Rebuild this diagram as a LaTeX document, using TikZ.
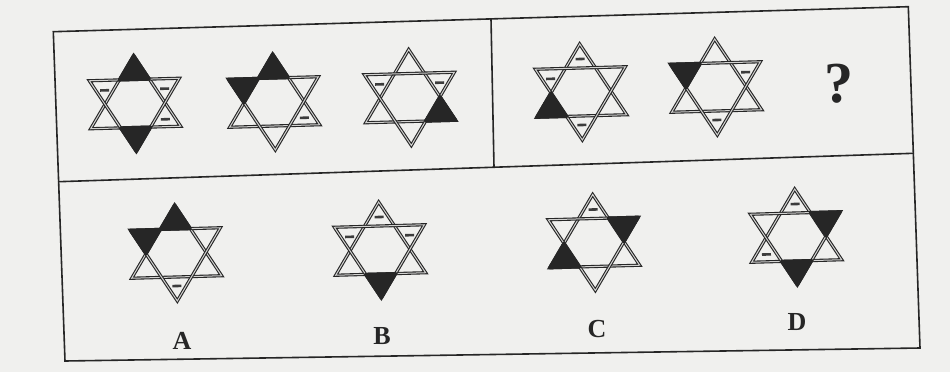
\documentclass[tikz,border=0pt]{standalone}
\usepackage{fontspec}
\setmainfont{Liberation Serif}
\usetikzlibrary{calc}
\definecolor{paper}{HTML}{F0F0EE}
\definecolor{ink}{HTML}{262626}
\tikzset{
  tri/.style={draw=ink, double=paper!85!ink, line width=1.1pt, double distance=1pt, line join=miter},
  tipfill/.style={fill=ink, draw=ink, line width=3.2pt, line join=round},
  dashmark/.style={fill=ink!90},
  frameline/.style={draw=ink, line width=1.6pt, line join=miter},
  letter/.style={font=\fontsize{26}{26}\selectfont\bfseries, text=ink, inner sep=0pt},
  qmark/.style={font=\fontsize{58}{58}\selectfont\bfseries, text=ink, inner sep=0pt},
  % the six small tips of a star
  tip T/.style={insert path={(-15,-24) -- (15,-24) -- (0,-48) -- cycle}},
  tip B/.style={insert path={(-15,24) -- (15,24) -- (0,48) -- cycle}},
  tip UL/.style={insert path={(-45,-24) -- (-15,-24) -- (-30,0) -- cycle}},
  tip UR/.style={insert path={(45,-24) -- (15,-24) -- (30,0) -- cycle}},
  tip LL/.style={insert path={(-45,24) -- (-15,24) -- (-30,0) -- cycle}},
  tip LR/.style={insert path={(45,24) -- (15,24) -- (30,0) -- cycle}},
  % short bars inside the tips
  mark T/.style={insert path={(-4.5,-34.3) rectangle (4.5,-31.7)}},
  mark B/.style={insert path={(-4.5,31.7) rectangle (4.5,34.3)}},
  mark UL/.style={insert path={(-34.5,-15.3) rectangle (-25.5,-12.7)}},
  mark UR/.style={insert path={(25.5,-15.3) rectangle (34.5,-12.7)}},
  mark LL/.style={insert path={(-34.5,15.3) rectangle (-25.5,17.9)}},
  mark LR/.style={insert path={(25.5,15.3) rectangle (34.5,17.9)}},
}
% centre, black tips, marked tips
\newcommand{\hexstar}[3]{%
  \begin{scope}[shift={#1}, rotate=1.6]
    \draw[tri] (0,-48) -- (45,24) -- (-45,24) -- cycle;
    \draw[tri] (0,48) -- (45,-24) -- (-45,-24) -- cycle;
    \foreach \t in {#2} {\path[tipfill, tip \t];}
    \foreach \t in {#3} {\path[dashmark, mark \t];}
  \end{scope}}

\begin{document}
\begin{tikzpicture}[x=1pt, y=-1pt, line cap=round]
  \fill[paper] (0,0) rectangle (950,372);
  \useasboundingbox (0,0) rectangle (950,372);

  % ---------- frame ----------
  \coordinate (tl) at (53.3,31.7);
  \coordinate (tr) at (908.3,6.7);
  \coordinate (br) at (920,348);
  \coordinate (bl) at (65,361);
  \coordinate (ml) at (58.6,181.7);
  \coordinate (mr) at (913.3,153.3);
  \coordinate (dt) at (491,18.9);
  \coordinate (db) at (494,167.2);
  \draw[frameline] (tl) -- (tr) -- (br) -- (bl) -- cycle;
  \draw[frameline] (ml) -- (mr);
  \draw[frameline] (dt) -- (db);

  % ---------- given stars ----------
  \hexstar{(135,103.5)}{T,B}{UL,UR,LR}
  \hexstar{(274,102)}{T,UL}{LR}
  \hexstar{(410,97.5)}{LR}{UL,UR}
  \hexstar{(581,92)}{LL}{T,UL,B}
  \hexstar{(716,87)}{UL}{UR,B}
  \node[qmark] (q) at (839,84) {?};

  % ---------- choices ----------
  \hexstar{(176,253)}{T,UL}{B}
  \hexstar{(380,250)}{B}{T,UL,UR}
  \hexstar{(594,242.5)}{UR,LL}{T}
  \hexstar{(796,237)}{UR,B}{T,LL}
  \node[letter] (lA) at (182,341) {A};
  \node[letter] (lB) at (382,336) {B};
  \node[letter] (lC) at (597,329) {C};
  \node[letter] (lD) at (797,322) {D};
\end{tikzpicture}
\end{document}
